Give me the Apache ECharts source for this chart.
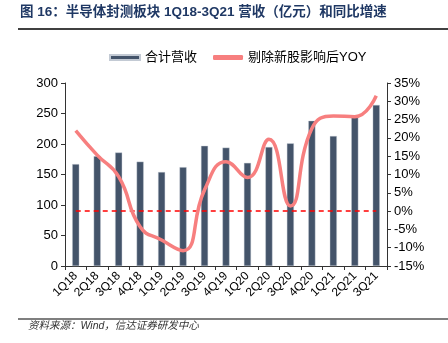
<!DOCTYPE html>
<html><head><meta charset="utf-8">
<script src="https://cdn.jsdelivr.net/npm/echarts@6/dist/echarts.min.js"></script>
<style>html,body{margin:0;padding:0;background:#fff;}#c{width:448px;height:343px;}</style>
</head><body><div id="c"></div>
<script>
const categories = ['1Q18','2Q18','3Q18','4Q18','1Q19','2Q19','3Q19','4Q19','1Q20','2Q20','3Q20','4Q20','1Q21','2Q21','3Q21'];
const revenue = [167, 180, 186, 171, 154, 162, 197, 194, 169, 195, 201, 238, 213, 245, 264];
const yoy = [22, 15.3, 9.4, -4.3, -7.9, -10.8, 5.8, 13.5, 9.2, 19.6, 1.4, 22.6, 26, 25.8, 31.5];
const zeroLine = categories.map(() => 0);
const titleText = '图 16：半导体封测板块 1Q18-3Q21 营收（亿元）和同比增速';
const sourceText = '资料来源：Wind，信达证券研发中心';

const chart = echarts.init(document.getElementById('c'), null, {renderer: 'canvas'});
const font = '"Liberation Sans", Arial, "Noto Sans CJK SC", sans-serif';
chart.setOption({
  animation: false,
  backgroundColor: '#fff',
  textStyle: {fontFamily: font},
  graphic: [
    {type: 'text', left: 20, top: 6, style: {text: titleText, font: 'bold 13.5px ' + font, fill: '#1f3864'}},
    {type: 'line', shape: {x1: 18, y1: 29, x2: 448, y2: 29}, style: {stroke: '#000', lineWidth: 1.5}},
    {type: 'line', shape: {x1: 18, y1: 319, x2: 448, y2: 319}, style: {stroke: '#000', lineWidth: 1.2}},
    {type: 'text', left: 28, top: 321, style: {text: sourceText, font: 'italic 10.5px ' + font, fill: '#333'}}
  ],
  legend: {
    top: 46, left: 104,
    itemWidth: 30, itemHeight: 5, itemGap: 16,
    textStyle: {fontSize: 13, color: '#000', fontFamily: font},
    data: [{name: '合计营收', icon: 'rect'}, {name: '剔除新股影响后YOY', icon: 'roundRect'}]
  },
  grid: {left: 65, right: 61, top: 83, bottom: 77, containLabel: false},
  xAxis: {
    type: 'category', data: categories,
    axisLine: {lineStyle: {color: '#333', width: 1}},
    axisTick: {show: true, alignWithLabel: false, length: 4, lineStyle: {color: '#333'}},
    axisLabel: {rotate: 45, fontSize: 12, color: '#000', margin: 8, interval: 0}
  },
  yAxis: [
    {type: 'value', min: 0, max: 300, interval: 50,
     axisLine: {show: true, lineStyle: {color: '#333'}},
     axisTick: {show: true, length: 4, lineStyle: {color: '#333'}},
     splitLine: {show: false},
     axisLabel: {fontSize: 13, color: '#000', margin: 7}},
    {type: 'value', min: -15, max: 35, interval: 5,
     axisLine: {show: true, lineStyle: {color: '#333'}},
     axisTick: {show: true, length: 4, lineStyle: {color: '#333'}},
     splitLine: {show: false},
     axisLabel: {fontSize: 13, color: '#000', margin: 7, formatter: '{value}%'}}
  ],
  series: [
    {name: '合计营收', type: 'bar', data: revenue, barWidth: 7, yAxisIndex: 0,
     itemStyle: {color: '#44546a', borderColor: '#c3cad4', borderWidth: 0.4}},
    {name: 'zero', type: 'line', data: zeroLine, yAxisIndex: 1, symbol: 'none',
     lineStyle: {color: '#ff0000', width: 1.5, type: [5, 4]}, silent: true, z: 3},
    {name: '剔除新股影响后YOY', type: 'line', data: yoy, yAxisIndex: 1, smooth: 0.5,
     symbol: 'none', showSymbol: false,
     lineStyle: {color: '#f77f7f', width: 3.5}, itemStyle: {color: '#f77f7f'}, z: 4}
  ]
});
</script></body></html>
